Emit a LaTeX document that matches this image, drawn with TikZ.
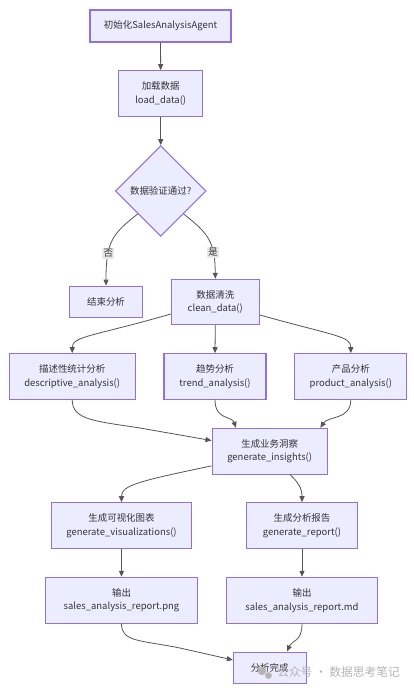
\documentclass[tikz,border=0pt]{standalone}
\usepackage{fontspec}
\setmainfont{Noto Sans CJK SC}
\usetikzlibrary{shapes.geometric,arrows.meta,calc}
\definecolor{boxfill}{HTML}{ECECFF}
\definecolor{boxline}{HTML}{9370DB}
\definecolor{txt}{HTML}{333333}
\definecolor{edge}{HTML}{555555}
\definecolor{lblbg}{HTML}{E8E8E8}
\definecolor{wm}{HTML}{B4B4B4}
\begin{document}
\begin{tikzpicture}[x=0.75pt,y=-0.75pt,
  every node/.style={text=txt,font=\fontsize{7.1}{10.3}\selectfont},
  box/.style={draw=boxline,fill=boxfill,line width=0.8pt,inner sep=0pt,align=center},
  dia/.style={draw=boxline,fill=boxfill,line width=0.8pt,diamond,inner sep=0pt,minimum width=68pt,minimum height=68pt},
  arr/.style={draw=edge,line width=0.6pt,-{Triangle[length=4.5pt,width=3.8pt]}},
  lbl/.style={fill=lblbg,inner sep=1pt}
]
\useasboundingbox (0,0) rectangle (414,690);
\fill[white] (0,0) rectangle (414,690);

\node[box,minimum width=105.75pt,minimum height=24pt] (b1) at (160.5,26) {初始化SalesAnalysisAgent};
\node[box,minimum width=63pt,minimum height=34.2pt] (b2) at (160.7,93.5) {加载数据\\load\_data()};
\node[dia] (d) at (160.7,191) {};
\node (dl) at (d.center) {数据验证通过?};
\node[box,minimum width=55pt,minimum height=23.8pt] (end) at (106,302) {结束分析};
\node[box,minimum width=66pt,minimum height=34pt] (clean) at (215.3,302) {数据清洗\\clean\_data()};
\node[box,minimum width=94.3pt,minimum height=34.2pt] (desc) at (72.2,376.5) {描述性统计分析\\descriptive\_analysis()};
\node[box,minimum width=76.5pt,minimum height=34.2pt] (trend) at (215,376.5) {趋势分析\\trend\_analysis()};
\node[box,minimum width=83.8pt,minimum height=34.2pt] (prod) at (350.8,376.5) {产品分析\\product\_analysis()};
\node[box,minimum width=86.5pt,minimum height=34.3pt] (ins) at (269.7,451.2) {生成业务洞察\\generate\_insights()};
\node[box,minimum width=105.3pt,minimum height=34.5pt] (vis) at (121.5,525.7) {生成可视化图表\\generate\_visualizations()};
\node[box,minimum width=83pt,minimum height=34.5pt] (rep) at (302,525.7) {生成分析报告\\generate\_report()};
\node[box,minimum width=114.3pt,minimum height=34.5pt] (png) at (121.5,600.3) {输出\\sales\_analysis\_report.png};
\node[box,minimum width=113.5pt,minimum height=34.5pt] (md) at (302,600.3) {输出\\sales\_analysis\_report.md};
\node[box,minimum width=54.5pt,minimum height=23.5pt] (done) at (269.7,667.7) {分析完成};

% edges
\draw[arr] (b1.south) -- (b2.north);
\draw[arr] (b2.south) -- (d.north);
\draw[arr] (d.south west) .. controls (112,234) and (106,242) .. (end.north) node[lbl,pos=0.68] (no) {否};
\draw[arr] (d.south east) .. controls (209,234) and (215,242) .. (clean.north) node[lbl,pos=0.7] (yes) {是};
\draw[arr] ([yshift=-9pt]clean.west) .. controls (95,336) and (72.2,336) .. (desc.north);
\draw[arr] (clean.south) -- (trend.north);
\draw[arr] ([yshift=-9.75pt]clean.east) .. controls (335,336) and (350.8,336) .. (prod.north);
\draw[arr] (desc.south) .. controls (72.2,420) and (95,421) .. (140,428) -- ([yshift=8pt]ins.west);
\draw[arr] (trend.south) .. controls (215,420) and (232,416) .. ([xshift=-25.3pt]ins.north);
\draw[arr] (prod.south) .. controls (350.8,420) and (328,416) .. ([xshift=38pt]ins.north);
\draw[arr] ([yshift=-11pt]ins.west) .. controls (140,481) and (121.5,485) .. (vis.north);
\draw[arr] ([xshift=15.2pt]ins.south) .. controls (298,482) and (302,488) .. (rep.north);
\draw[arr] (vis.south) -- (png.north);
\draw[arr] (rep.south) -- (md.north);
\draw[arr] (png.south) .. controls (121.5,642) and (140,640) .. (180,648) -- ([yshift=5.8pt]done.west);
\draw[arr] (md.south) .. controls (302,642) and (292,640) .. ([xshift=13pt]done.north);

% watermark
\fill[wm] (262,671) circle (4.2);
\fill[wm] (268.5,675.5) circle (3.4);
\node[text=wm,font=\fontsize{8.8}{10}\selectfont,anchor=west,inner sep=0pt] (wmk) at (277,672) {公众号 · 数据思考笔记};
\end{tikzpicture}
\end{document}
